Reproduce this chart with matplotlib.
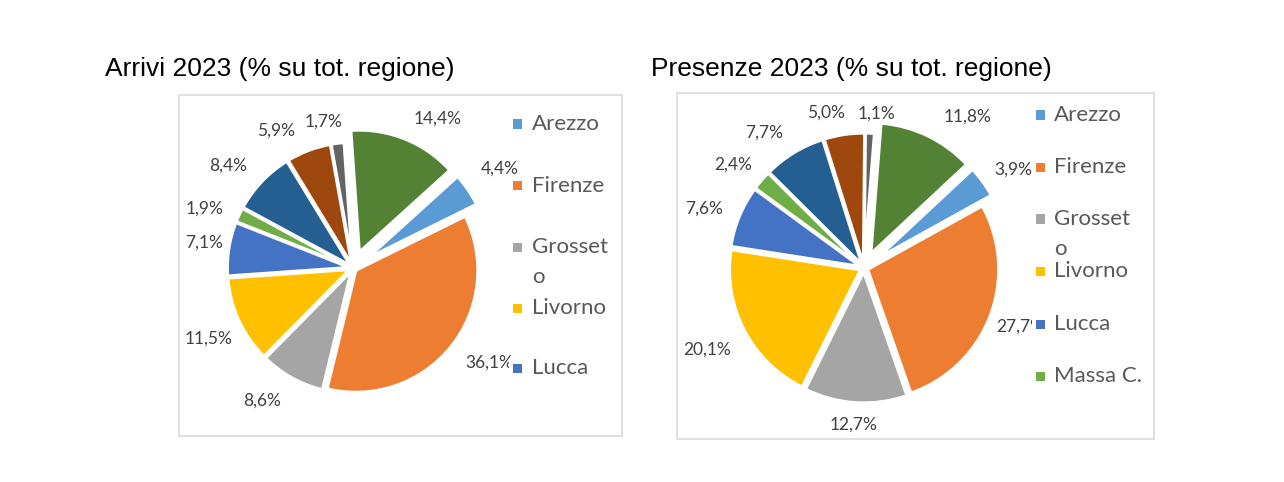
import numpy as np
import matplotlib.pyplot as plt
from matplotlib.patches import Rectangle

provinces = ['Arezzo', 'Firenze', 'Grosseto', 'Livorno', 'Lucca',
             'Massa C.', 'Pisa', 'Pistoia', 'Prato', 'Siena']
arrivi = [4.4, 36.1, 8.6, 11.5, 7.1, 1.9, 8.4, 5.9, 1.7, 14.4]
presenze = [3.9, 27.7, 12.7, 20.1, 7.6, 2.4, 7.7, 5.0, 1.1, 11.8]
colors = ['#5B9BD5', '#ED7D31', '#A5A5A5', '#FFC000', '#4472C4',
          '#70AD47', '#255E91', '#9E480E', '#636363', '#548235']
legend1 = ['Arezzo', 'Firenze', 'Grosset\no', 'Livorno', 'Lucca']
legend2 = ['Arezzo', 'Firenze', 'Grosset\no', 'Livorno', 'Lucca', 'Massa C.']

W, H = 1284, 482
fig = plt.figure(figsize=(W / 100, H / 100), dpi=100)
fig.patch.set_facecolor('white')
renderer = fig.canvas.get_renderer()

def fx(x):
    return x / W

def fy(y):
    return 1 - y / H

def frame(x0, y0, x1, y1):
    fig.patches.append(Rectangle((fx(x0), fy(y1)), fx(x1) - fx(x0), fy(y0) - fy(y1),
                                 transform=fig.transFigure, fill=False,
                                 edgecolor='#D9D9D9', linewidth=1.2))

def draw_pie(values, cx, cy, r, explode, box, rot=0, gap=18, nudge={}):
    half = 200
    ax = fig.add_axes([fx(cx - half), fy(cy + half), 2 * half / W, 2 * half / H])
    lim = half / r
    wedges, _ = ax.pie(values, colors=colors, startangle=90 + rot - 3.6 * values[-1],
                       counterclock=False, explode=explode,
                       wedgeprops=dict(edgecolor='white', linewidth=2.2))
    ax.set_xlim(-lim, lim)
    ax.set_ylim(-lim, lim)
    ax.set_aspect('equal')
    ax.axis('off')
    for i, (w, v) in enumerate(zip(wedges, values)):
        mid = np.deg2rad((w.theta1 + w.theta2) / 2)
        c, s = np.cos(mid), np.sin(mid)
        t = ax.text(0, 0, ('%.1f%%' % v).replace('.', ','), ha='center', va='center',
                    fontsize=12.5, color='#404040', family='Lato')
        bb = t.get_window_extent(renderer)
        hw, hh = bb.width / 2, bb.height / 2
        # pixel position: outside end, then kept inside the chart frame
        px0 = cx + w.center[0] * r
        py0 = cy - w.center[1] * r
        d = r + gap + abs(c) * hw + abs(s) * hh
        px = px0 + d * c
        py = py0 - d * s
        px = min(max(px, box[0] + 6 + hw), box[2] - 6 - hw)
        py = min(max(py, box[1] + 6 + hh), box[3] - 6 - hh)
        ndx, ndy = nudge.get(i, (0, 0))
        px += ndx
        py += ndy
        t.set_position(((px - cx) / r, (cy - py) / r))
    return ax

def legend(labels, sx, tx, ys):
    for lab, y in zip(labels, ys):
        k = provinces.index(lab.replace('\n', ''))
        # legend entries sit on white, hiding labels that run under them
        fig.patches.append(Rectangle((fx(sx - 4), fy(y + 10)), 90 / W, 20 / H,
                                     transform=fig.transFigure,
                                     facecolor='white', edgecolor='none'))
        fig.patches.append(Rectangle((fx(sx), fy(y + 4.5)), 9 / W, 9 / H,
                                     transform=fig.transFigure,
                                     facecolor=colors[k], edgecolor='none'))
        fig.text(fx(tx), fy(y), lab.split('\n')[0], ha='left', va='center',
                 fontsize=16, color='#595959', family='Lato')
        if '\n' in lab:
            fig.text(fx(tx), fy(y + 30), lab.split('\n')[1], ha='left', va='center',
                     fontsize=16, color='#595959', family='Lato')

# chart 1
box1 = (179, 95, 622, 436)
frame(*box1)
fig.text(fx(105), fy(69), 'Arrivi 2023 (% su tot. regione)', ha='left', va='center',
         fontsize=19, family='Liberation Sans', color='black')
draw_pie(arrivi, 353, 268, 122,
         [0.14, 0.03, 0.03, 0.03, 0.03, 0.03, 0.03, 0.03, 0.03, 0.14], box1, rot=4,
         nudge={1: (6, -10), 2: (-13, -7), 5: (0, 10), 6: (-7, 10),
                7: (-21, 10), 8: (-11, 6), 9: (20, 10)})
legend(legend1, 513, 532, [124, 186, 247, 308, 368])

# chart 2
box2 = (677, 93, 1154, 439)
frame(*box2)
fig.text(fx(651), fy(69), 'Presenze 2023 (% su tot. regione)', ha='left', va='center',
         fontsize=19, family='Liberation Sans', color='black')
draw_pie(presenze, 864, 268, 131,
         [0.12, 0.03, 0.03, 0.03, 0.03, 0.03, 0.03, 0.03, 0.03, 0.12], box2, rot=-4.5,
         nudge={0: (0, 10), 1: (-10, -5), 4: (0, 7), 5: (0, 9), 6: (-12, 10),
                7: (-14, 6), 8: (5, 7), 9: (24, 10)})
legend(legend2, 1036, 1054, [115, 167, 219, 271, 324, 376])

fig.savefig('out.png', dpi=100, facecolor='white')
